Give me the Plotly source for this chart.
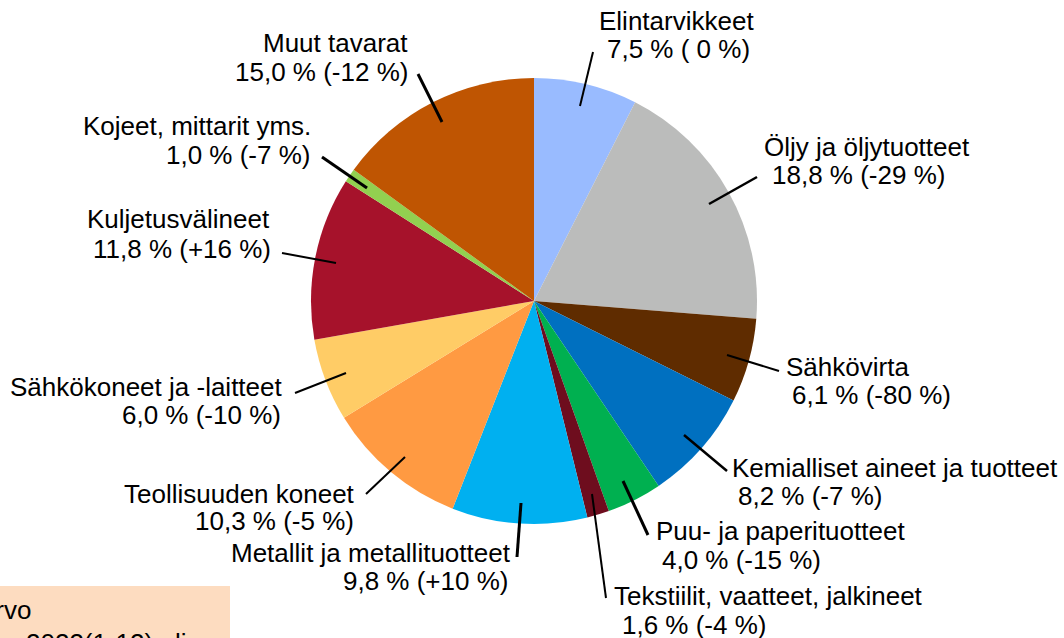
import plotly.graph_objects as go

W, H = 1064, 638

# data (clockwise from 12 o'clock)
categories = ["Elintarvikkeet", "Öljy ja öljytuotteet", "Sähkövirta",
              "Kemialliset aineet ja tuotteet", "Puu- ja paperituotteet",
              "Tekstiilit, vaatteet, jalkineet", "Metallit ja metallituotteet",
              "Teollisuuden koneet", "Sähkökoneet ja -laitteet",
              "Kuljetusvälineet", "Kojeet, mittarit yms.", "Muut tavarat"]
shares = [7.5, 18.8, 6.1, 8.2, 4.0, 1.6, 9.8, 10.3, 6.0, 11.8, 1.0, 15.0]
changes = [" 0", "-29", "-80", "-7", "-15", "-4", "+10", "-5", "-10", "+16", "-7", "-12"]
colors = ["#99BBFF", "#BBBCBB", "#5F2C00", "#0070C0", "#00B050", "#6E0D1E",
          "#00B0F0", "#FF9A42", "#FFCC66", "#A6122B", "#92D050", "#BF5502"]

# label placement in screen pixels: (anchor, x1, y1, x2, y2) for name line and value line
label_pos = [
    ("center", 676, 21, 678, 49),
    ("left", 762, 147, 770, 175),
    ("left", 784, 367, 790, 395),
    ("left", 730, 468, 736, 496),
    ("left", 654, 531, 660, 560),
    ("left", 612, 596, 620, 625),
    ("right", 513, 553, 510, 581),
    ("right", 357, 494, 356, 521),
    ("right", 285, 387, 283, 415),
    ("right", 272, 219, 273, 249),
    ("right", 313, 126, 313, 155),
    ("right", 410, 43, 410, 72),
]
# leader lines in screen pixels (x0, y0, x1, y1, width)
leaders = [
    (580, 106, 593, 52, 2),
    (709, 204, 757, 177, 2.5),
    (727, 355, 779, 371, 2),
    (684, 435, 727, 471, 2.5),
    (623, 481, 648, 535, 3),
    (592, 494, 606, 598, 2),
    (521, 503, 517, 557, 3),
    (405, 457, 366, 494, 2),
    (346, 373, 295, 393, 2),
    (336, 263, 282, 253, 2),
    (367, 188, 322, 157, 3),
    (442, 122, 418, 74, 3),
]


def px(x):
    return x / W


def py(y):
    return 1 - y / H


cx, cy, r = 534, 301, 223

fig = go.Figure(go.Pie(
    labels=categories, values=shares, sort=False, direction="clockwise",
    rotation=0, textinfo="none", hoverinfo="label+percent",
    marker=dict(colors=colors, line=dict(width=0)),
    domain=dict(x=[px(cx - r), px(cx + r)], y=[py(cy + r), py(cy - r)]),
    showlegend=False,
))

font = dict(family="Liberation Sans, Arial, sans-serif", size=26, color="black")

for name, s, c, (anchor, x1, y1, x2, y2) in zip(categories, shares, changes, label_pos):
    value = f"{s:.1f}".replace(".", ",") + f" % ({c} %)"
    for txt, x, y in ((name, x1, y1), (value, x2, y2)):
        fig.add_annotation(x=px(x), y=py(y), xref="paper", yref="paper",
                           text=txt, showarrow=False, xanchor=anchor,
                           yanchor="middle", font=font)

for x0, y0, x1, y1, w in leaders:
    fig.add_shape(type="line", xref="paper", yref="paper",
                  x0=px(x0), y0=py(y0), x1=px(x1), y1=py(y1),
                  line=dict(color="black", width=w))

# partially visible note box in the lower left corner
fig.add_shape(type="rect", xref="paper", yref="paper",
              x0=px(-20), y0=py(680), x1=px(230), y1=py(586),
              fillcolor="#FDDCC0", line=dict(width=0), layer="below")
fig.add_annotation(x=px(33), y=py(610), xref="paper", yref="paper",
                   text="Arvo", showarrow=False, xanchor="right", yanchor="middle",
                   font=font)
fig.add_annotation(x=px(24), y=py(626), xref="paper", yref="paper",
                   text="2023(1-12) eli", showarrow=False, xanchor="left",
                   yanchor="top", font=font)

fig.update_layout(width=W, height=H, margin=dict(l=0, r=0, t=0, b=0),
                  paper_bgcolor="white", plot_bgcolor="white")

# drop the default page margin so the figure sits at the window's corner
fig.write_html("out.html", config={"displayModeBar": False},
               post_script="document.body.style.margin='0';document.body.style.overflow='hidden';")
